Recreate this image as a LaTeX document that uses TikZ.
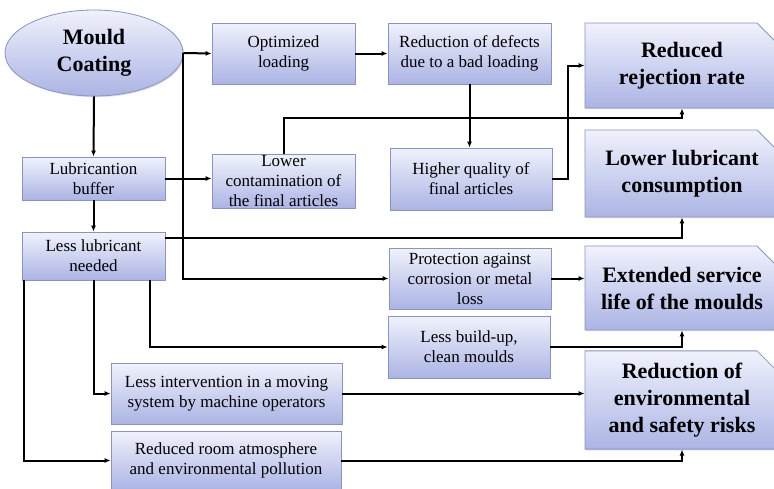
\documentclass[tikz,border=0pt]{standalone}
\usepackage{fontspec}
\setmainfont{Liberation Serif}
\usetikzlibrary{shapes.geometric,shapes.misc,shadows,arrows.meta,calc}

\definecolor{boxtop}{HTML}{F0F2FC}
\definecolor{boxbot}{HTML}{ABB4E4}
\definecolor{boxline}{HTML}{8893C8}

\begin{document}
\begin{tikzpicture}[x=1pt,y=-1pt,
        fillbox/.style={draw=boxline,line width=0.8pt,top color=boxtop,bottom color=boxbot,
            drop shadow={opacity=0.25,shadow xshift=1.2pt,shadow yshift=-1.2pt}},
        effect/.style={fillbox,rectangle,inner sep=1pt,align=center,
            font=\fontsize{17}{20}\selectfont},
        outcome/.style={fillbox,chamfered rectangle,chamfered rectangle corners=north east,
            chamfered rectangle xsep=11pt,chamfered rectangle ysep=11pt,
            minimum width=194pt,inner sep=1pt,align=center,
            font=\fontsize{22}{27}\selectfont\bfseries},
        link/.style={line width=2pt,-{Latex[length=6pt,width=5pt]}}]
        \useasboundingbox (0,0) rectangle (774,488);
        \fill[white] (0,0) rectangle (774,488);

        % source
        \node[fillbox,ellipse,minimum width=178pt,minimum height=86pt,inner sep=0pt,align=center,
            font=\fontsize{22}{27}\selectfont\bfseries] (coat) at (94,53) {Mould\\Coating};

        % intermediate effects
        \node[effect,minimum width=143pt,minimum height=61pt] (optload) at (283.5,53.5) {Optimized\\loading};
        \node[effect,minimum width=163pt,minimum height=61pt] (defects) at (469.5,53.5) {Reduction of defects\\due to a bad loading};
        \node[effect,minimum width=143pt,minimum height=43pt] (buffer) at (93.5,178.5) {Lubricantion\\buffer};
        \node[effect,minimum width=143pt,minimum height=53pt] (contam) at (283.5,181.5) {Lower\\contamination of\\the final articles};
        \node[effect,minimum width=162pt,minimum height=62pt] (quality) at (471,179) {Higher quality of\\final articles};
        \node[effect,minimum width=143pt,minimum height=48pt] (less) at (93.5,256) {Less lubricant\\needed};
        \node[effect,minimum width=162pt,minimum height=61pt] (protect) at (470,278.5) {Protection against\\corrosion or metal\\loss};
        \node[effect,minimum width=162pt,minimum height=62pt] (buildup) at (469,347) {Less build-up,\\clean moulds};
        \node[effect,minimum width=231pt,minimum height=61pt] (interv) at (226.5,393.5) {Less intervention in a moving\\system by machine operators};
        \node[effect,minimum width=230pt,minimum height=59pt] (room) at (226,460.5) {Reduced room atmosphere\\and environmental pollution};

        % outcomes
        \node[outcome,minimum height=85pt] (reject) at (682,65.5) {Reduced\\rejection rate};
        \node[outcome,minimum height=87pt] (consum) at (682,173.5) {Lower lubricant\\consumption};
        \node[outcome,minimum height=84pt] (service) at (682,288) {Extended service\\life of the moulds};
        \node[outcome,minimum height=94pt] (risks) at (682,400) {Reduction of\\environmental\\and safety risks};

        \draw[link] (coat.south) -- (buffer.north);
        \draw[link] (coat.east) -- (optload.west);
        \draw[link] (coat.east) |- (protect.west);
        \draw[link] (optload.east) -- (defects.west);
        \draw[link] (defects.south) -- (defects.south |- quality.north);
        \draw[link] (quality.east) -- ++(16,0) |- (reject.west);
        \draw[link] (contam.north) -- ++(0,-36) -| (reject.south);
        \draw[link] (buffer.east) -- (buffer.east -| contam.west);
        \draw[link] (buffer.south) -- (less.north);
        \draw[link] ([yshift=18pt]less.east) -| (consum.south);
        \draw[link] ([xshift=56.5pt]less.south) |- (buildup.west);
        \draw[link] (less.south) |- (interv.west);
        \draw[link] ([xshift=2pt]less.south west) |- (room.west);
        \draw[link] (protect.east) -- (protect.east -| service.west);
        \draw[link] (buildup.east) -| (service.south);
        \draw[link] (interv.east) -- (interv.east -| risks.west);
        \draw[link] (room.east) -| (risks.south);
    \end{tikzpicture}
\end{document}
